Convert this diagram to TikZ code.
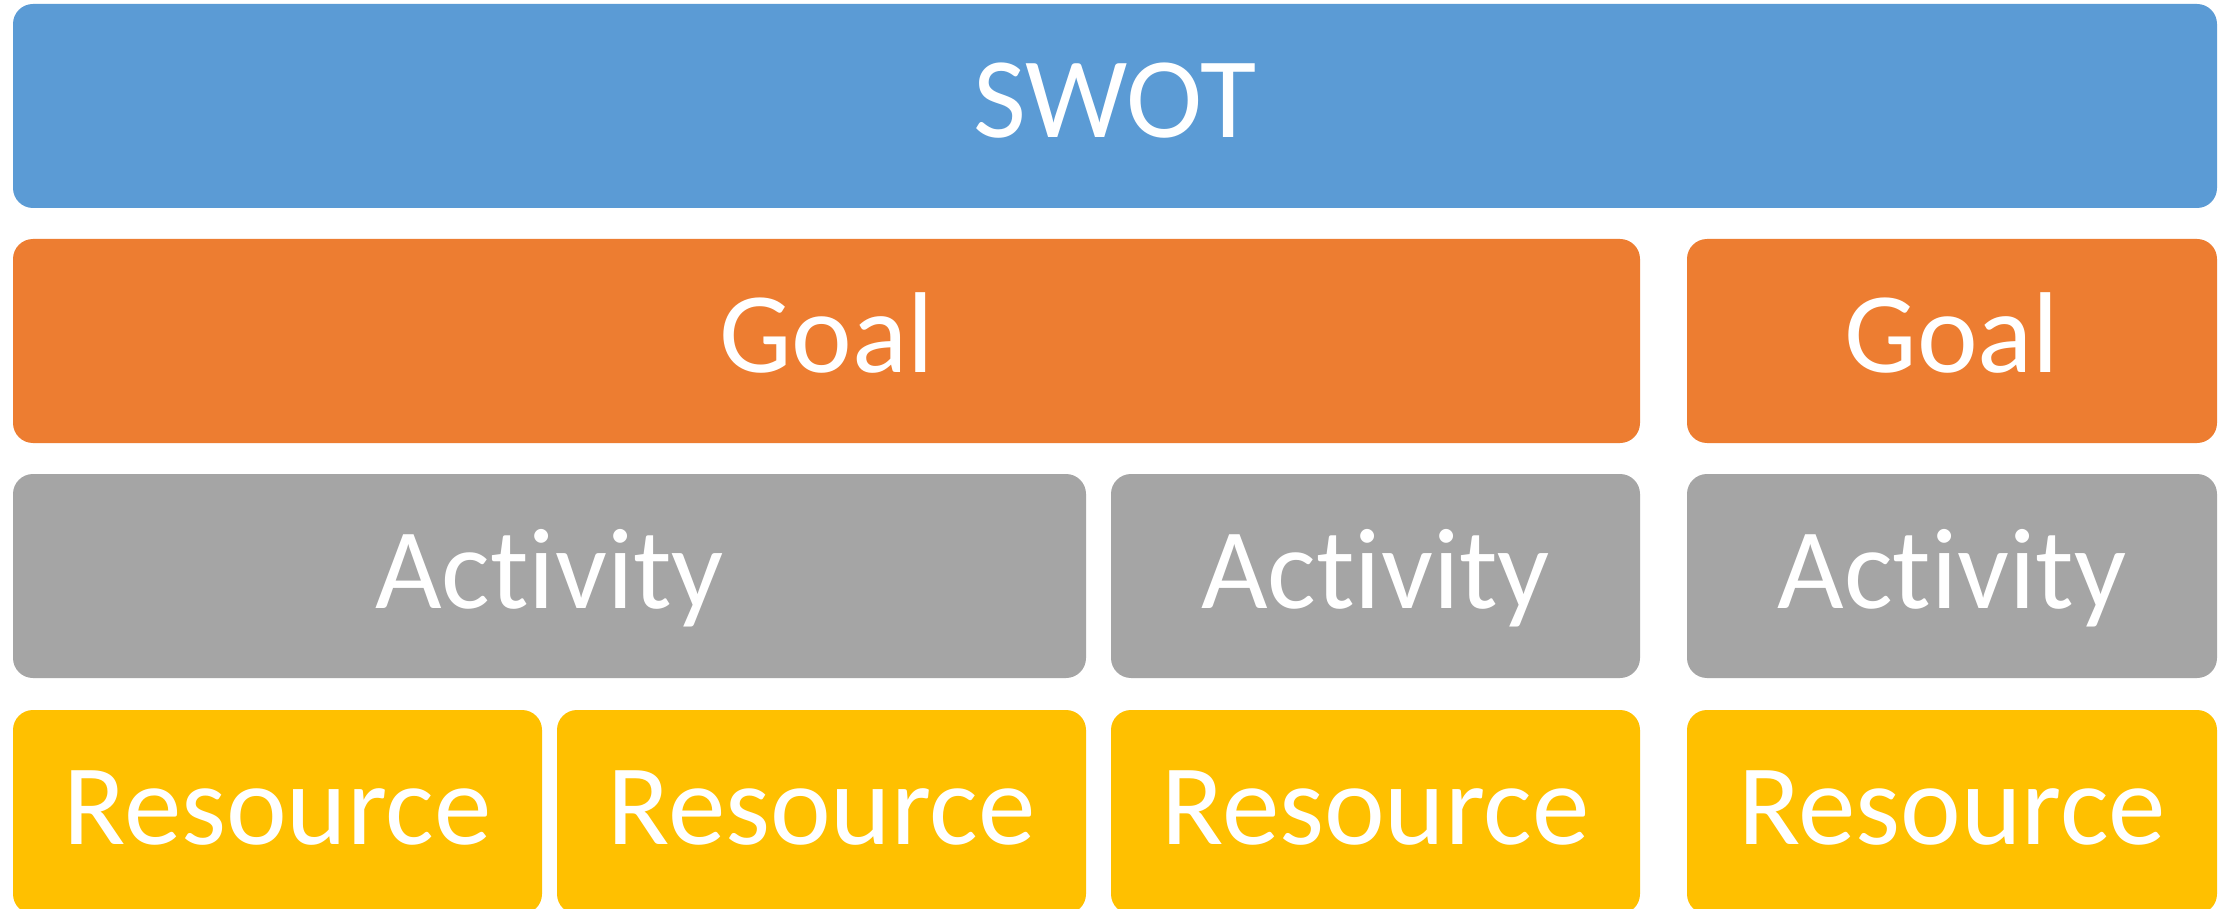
\documentclass[tikz,border=0pt]{standalone}
\usepackage{fontspec}
\setmainfont{Carlito}[Ligatures={NoCommon,NoContextual}]
\definecolor{swotblue}{HTML}{5B9BD5}
\definecolor{goalorange}{HTML}{ED7D31}
\definecolor{actgray}{HTML}{A5A5A5}
\definecolor{resyellow}{HTML}{FFC000}
\tikzset{
  blk/.style={rectangle, rounded corners=20pt, draw=none, inner sep=0pt,
    minimum height=204pt, text=white, text height=73pt, text depth=9pt,
    font=\fontsize{115}{120}\selectfont},
  swotbox/.style={blk, fill=swotblue},
  goalbox/.style={blk, fill=goalorange},
  actbox/.style={blk, fill=actgray},
  resbox/.style={blk, fill=resyellow}
}
\begin{document}
\begin{tikzpicture}[x=1pt, y=-1pt]
\fill[white] (0,0) rectangle (2231,909);
\useasboundingbox (0,0) rectangle (2231,909);
\node[swotbox, minimum width=2204pt] (swot) at (1115,106) {SWOT};
\node[goalbox, minimum width=1627pt] (goalA) at (826.5,341) {Goal};
\node[goalbox, minimum width=530pt] (goalB) at (1952,341) {Goal};
\node[actbox, minimum width=1073pt] (actA) at (549.5,576) {Activity};
\node[actbox, minimum width=529pt] (actB) at (1375.5,576) {Activity};
\node[actbox, minimum width=530pt] (actC) at (1952,576) {Activity};
\node[resbox, minimum width=529pt] (resA) at (277.5,812) {Resource};
\node[resbox, minimum width=529pt] (resB) at (821.5,812) {Resource};
\node[resbox, minimum width=529pt] (resC) at (1375.5,812) {Resource};
\node[resbox, minimum width=530pt] (resD) at (1952,812) {Resource};
\end{tikzpicture}
\end{document}
